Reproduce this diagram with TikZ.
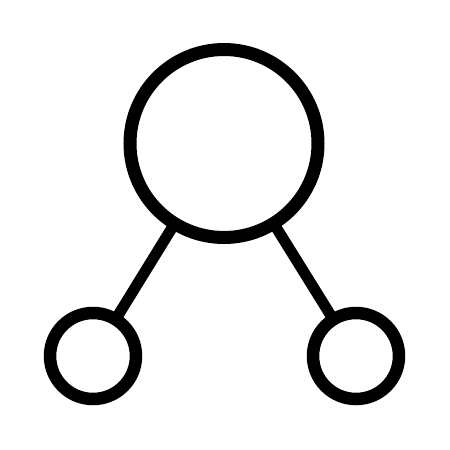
\documentclass[tikz,border=0pt]{standalone}
\begin{document}
\begin{tikzpicture}[x=1pt,y=-1pt,
  ring/.style={circle,draw=black,fill=white,inner sep=0pt,outer sep=0pt},
  bigring/.style={ring,line width=13pt,minimum size=188pt},
  smallring/.style={ring,line width=12.5pt,minimum size=86pt},
  link/.style={draw=black,line width=11pt}]
\useasboundingbox[fill=white] (0,0) rectangle (450,450);
\node[bigring] (top) at (224,143.5) {};
\node[smallring] (left) at (93,356) {};
\node[smallring] (right) at (356,356) {};
\begin{scope}[on background layer/.style={}]
\draw[link] (top) -- (left);
\draw[link] (top) -- (right);
\end{scope}
\end{tikzpicture}
\end{document}
